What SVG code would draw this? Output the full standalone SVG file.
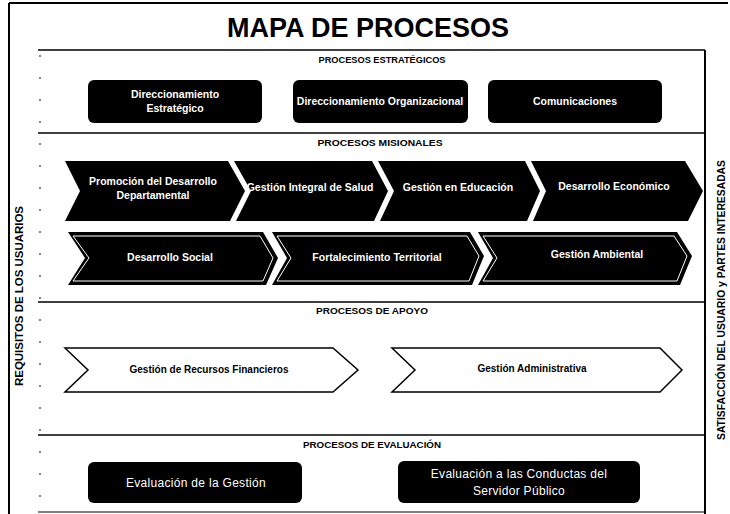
<svg xmlns="http://www.w3.org/2000/svg" width="730" height="514" viewBox="0 0 730 514">
<style>
.frame{stroke:#000;stroke-width:2;fill:none}
.sep{stroke:#000;stroke-width:1.5;fill:none}
.blk{fill:#000}
.wt{fill:#fff;font-family:"Liberation Sans",Arial,sans-serif;font-weight:bold;font-size:10.5px;text-anchor:middle}
.ev{fill:#fff;font-family:"Liberation Sans",Arial,sans-serif;font-size:12px;text-anchor:middle;letter-spacing:0.3px}
.hd{fill:#000;font-family:"Liberation Sans",Arial,sans-serif;font-weight:bold;font-size:9.5px;text-anchor:middle}
.ap{fill:#fff;stroke:#000;stroke-width:1.5}
.apt{fill:#000;font-family:"Liberation Sans",Arial,sans-serif;font-weight:bold;font-size:10px;text-anchor:middle}
.inner{fill:none;stroke:#fff;stroke-width:1}
.side{fill:#000;font-family:"Liberation Sans",Arial,sans-serif;font-weight:bold;font-size:10px;text-anchor:middle}
</style>
<rect width="730" height="514" fill="#fff"/>
<g id="frame">
<line class="frame" x1="9" y1="3" x2="728" y2="3"/>
<line class="frame" x1="9" y1="3" x2="9" y2="514"/>
<line class="frame" x1="705" y1="50" x2="705" y2="514"/>
<line class="sep" x1="38" y1="50" x2="705" y2="50"/>
<line class="sep" x1="38" y1="133" x2="705" y2="133"/>
<line class="sep" x1="38" y1="302" x2="705" y2="302"/>
<line class="sep" x1="38" y1="435" x2="705" y2="435"/>
<line x1="38" y1="512" x2="705" y2="512" stroke="#000" stroke-width="1"/>
<line x1="40" y1="55" x2="40" y2="512" stroke="#000" stroke-width="1" stroke-dasharray="2 20"/>
</g>
<text x="368" y="37" font-family="'Liberation Sans',Arial,sans-serif" font-weight="bold" font-size="27" text-anchor="middle" fill="#000">MAPA DE PROCESOS</text>
<text class="side" transform="translate(23,296) rotate(-90)" textLength="180" lengthAdjust="spacingAndGlyphs">REQUISITOS DE LOS USUARIOS</text>
<text class="side" transform="translate(725,300) rotate(-90)" textLength="280" lengthAdjust="spacingAndGlyphs">SATISFACCIÓN DEL USUARIO y PARTES INTERESADAS</text>

<text class="hd" x="382" y="63" textLength="127" lengthAdjust="spacingAndGlyphs">PROCESOS ESTRATÉGICOS</text>
<text class="hd" x="380" y="146" textLength="125" lengthAdjust="spacingAndGlyphs">PROCESOS MISIONALES</text>
<text class="hd" x="372" y="314" textLength="112" lengthAdjust="spacingAndGlyphs">PROCESOS DE APOYO</text>
<text class="hd" x="372" y="448" textLength="138" lengthAdjust="spacingAndGlyphs">PROCESOS DE EVALUACIÓN</text>

<g id="n-direccionamiento-estrategico">
<rect class="blk" x="88" y="80" width="174" height="43" rx="6"/>
<text class="wt" x="175" y="98">Direccionamiento</text>
<text class="wt" x="175" y="112">Estratégico</text>
</g>
<g id="n-direccionamiento-organizacional">
<rect class="blk" x="293" y="80" width="175" height="43" rx="6"/>
<text class="wt" x="380" y="105">Direccionamiento Organizacional</text>
</g>
<g id="n-comunicaciones">
<rect class="blk" x="488" y="80" width="174" height="43" rx="6"/>
<text class="wt" x="575" y="105">Comunicaciones</text>
</g>

<g id="n-promocion">
<polygon class="blk" points="65,161 228,161 245,191 230,221 65,221 80,191"/>
<text class="wt" x="153" y="185">Promoción del Desarrollo</text>
<text class="wt" x="153" y="199">Departamental</text>
</g>
<g id="n-salud">
<polygon class="blk" points="234,161 372,161 388,191 374,221 236,221 251,191"/>
<text class="wt" x="310" y="191">Gestión Integral de Salud</text>
</g>
<g id="n-educacion">
<polygon class="blk" points="378,161 525,161 540,191 527,221 380,221 394,191"/>
<text class="wt" x="458" y="191">Gestión en Educación</text>
</g>
<g id="n-economico">
<polygon class="blk" points="531,161 685,161 703,191 688,221 533,221 546,191"/>
<text class="wt" x="614" y="190">Desarrollo Económico</text>
</g>

<g id="n-social">
<polygon class="blk" points="68,232 263,232 278,258 266,285 68,285 85,258"/>
<polygon class="inner" points="73,236 260,236 273,258 263,281 73,281 89,258"/>
<text class="wt" x="170" y="261">Desarrollo Social</text>
</g>
<g id="n-territorial">
<polygon class="blk" points="272,232 470,232 484,256 472,285 272,285 287,258"/>
<polygon class="inner" points="277,236 467,236 479,256 469,281 277,281 291,258"/>
<text class="wt" x="377" y="261">Fortalecimiento Territorial</text>
</g>
<g id="n-ambiental">
<polygon class="blk" points="478,232 677,232 692,256 680,285 478,285 493,258"/>
<polygon class="inner" points="483,236 674,236 687,256 677,281 483,281 497,258"/>
<text class="wt" x="597" y="258">Gestión Ambiental</text>
</g>

<g id="n-financieros">
<polygon class="ap" points="65,348 333,348 358,370 333,392 65,392 88,370"/>
<text class="apt" x="209" y="373">Gestión de Recursos Financieros</text>
</g>
<g id="n-administrativa">
<polygon class="ap" points="392,348 660,348 682,370 660,392 392,392 415,370"/>
<text class="apt" x="532" y="372">Gestión Administrativa</text>
</g>

<g id="n-eval-gestion">
<rect class="blk" x="88" y="462" width="214" height="41" rx="6"/>
<text class="ev" x="196" y="487">Evaluación de la Gestión</text>
</g>
<g id="n-eval-conductas">
<rect class="blk" x="398" y="461" width="242" height="42" rx="6"/>
<text class="ev" x="519" y="478">Evaluación a las Conductas del</text>
<text class="ev" x="519" y="495">Servidor Público</text>
</g>
<g id="connectors"></g>
</svg>
